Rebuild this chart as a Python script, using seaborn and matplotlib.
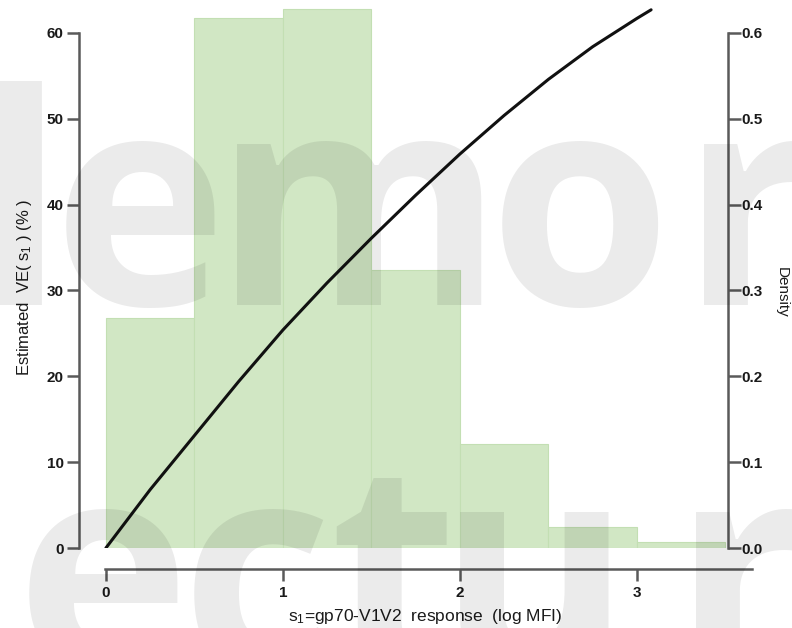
import numpy as np
import pandas as pd
import matplotlib
matplotlib.use('Agg')
import matplotlib.pyplot as plt
import seaborn as sns

# histogram of s1 (density per bin of width 0.5)
bin_edges = [0.0, 0.5, 1.0, 1.5, 2.0, 2.5, 3.0, 3.5]
bin_mids = [0.25, 0.75, 1.25, 1.75, 2.25, 2.75, 3.25]
density = [0.268, 0.618, 0.628, 0.324, 0.121, 0.024, 0.007]

# estimated VE curve
s1_vals = [0.0, 0.25, 0.5, 0.75, 1.0, 1.25, 1.5, 1.75, 2.0, 2.25, 2.5, 2.75, 3.0, 3.08]
ve_vals = [0.0, 6.8, 13.1, 19.4, 25.4, 30.9, 36.1, 41.1, 45.9, 50.4, 54.6, 58.4, 61.7, 62.7]

left_ticks = [0, 10, 20, 30, 40, 50, 60]
right_ticks = [0.0, 0.1, 0.2, 0.3, 0.4, 0.5, 0.6]
x_ticks = [0, 1, 2, 3]

# watermark letters (two rows)
wm_top = ['l', 'e', 'm', 'o', 'r']
wm_bottom = ['e', 'c', 't', 'u', 'r']

sns.set_style('white')
plt.rcParams['font.family'] = ['Liberation Sans', 'DejaVu Sans']

W, H = 792, 628
fig = plt.figure(figsize=(W / 100, H / 100), dpi=100)
ax = fig.add_axes([79 / W, (H - 548) / H, (752 - 79) / W, (548 - 5) / H])
ax2 = ax.twinx()

hist_df = pd.DataFrame({'s1': bin_mids, 'dens': density})
sns.histplot(data=hist_df, x='s1', weights='dens', bins=bin_edges, stat='count',
             ax=ax2, color='#d1e7c4', edgecolor='#c3dfb3', linewidth=0.8, alpha=1)

line_df = pd.DataFrame({'s1': s1_vals, 've': ve_vals})
sns.lineplot(data=line_df, x='s1', y='ve', ax=ax, color='#111111', linewidth=2.2)

ax.set_zorder(ax2.get_zorder() + 1)
ax.patch.set_visible(False)

xmax = 3.65
ax.set_xlim(-0.152, xmax)
ax.set_ylim(0, 63.26)
ax2.set_ylim(0, 0.6326)

spine_c = '#5a5a5a'
txt_c = '#1a1a1a'
for a in (ax, ax2):
    for s in a.spines.values():
        s.set_visible(False)

ax.spines['left'].set_visible(True)
ax.spines['left'].set_bounds(0, 60)
ax.spines['bottom'].set_visible(True)
ax.spines['bottom'].set_position(('outward', 21 * 0.72))
ax.spines['bottom'].set_bounds(-0.005, xmax)
ax2.spines['right'].set_visible(True)
ax2.spines['right'].set_position(('data', 3.514))
ax2.spines['right'].set_bounds(0, 0.6)
for s in (ax.spines['left'], ax.spines['bottom'], ax2.spines['right']):
    s.set_color(spine_c)
    s.set_linewidth(1.8)

ax.set_yticks(left_ticks)
ax.set_yticklabels([str(t) for t in left_ticks], fontweight='bold')
ax.set_xticks(x_ticks)
ax.set_xticklabels([str(t) for t in x_ticks], fontweight='bold')
ax2.set_yticks(right_ticks)
ax2.set_yticklabels([f'{t:.1f}' for t in right_ticks], fontweight='bold')

ax.tick_params(axis='y', left=True, length=9, width=1.8, color=spine_c,
               labelsize=11, labelcolor=txt_c, pad=2)
ax.tick_params(axis='x', bottom=True, length=8.5, width=1.8, color=spine_c,
               labelsize=11, labelcolor=txt_c, pad=4)
ax2.tick_params(axis='y', right=True, length=9, width=1.8, color=spine_c,
                labelsize=11, labelcolor=txt_c, pad=1)

ax.set_xlabel(r'$\mathregular{s_1}$=gp70-V1V2  response  (log MFI)', fontsize=12.5,
              color=txt_c)
ax.xaxis.set_label_coords((425 - 79) / 673, -(607 - 548) / 543)
ax.set_ylabel(r'Estimated  VE( $\mathregular{s_1}$ ) (% )', fontsize=12, color=txt_c)
ax.yaxis.set_label_coords((34 - 79) / 673, (548 - 287) / 543)
ax2.set_ylabel('Density', fontsize=11, color=txt_c, rotation=270, va='center')
ax2.yaxis.set_label_coords((782 - 79) / 673, (548 - 292) / 543)

# watermark, drawn letter by letter over the plot
wm_font = dict(fontsize=212, fontweight='bold', family=['Open Sans', 'DejaVu Sans'],
               color='black', alpha=0.08, zorder=10, ha='center', va='baseline')
for ch, xc in zip(wm_top, [20, 140, 359, 580, 748]):
    fig.text(xc / W, 1 - 305 / H, ch, **wm_font)
for ch, xc in zip(wm_bottom, [103, 256, 393, 535, 740]):
    fig.text(xc / W, 1 - 673 / H, ch, **wm_font)

fig.savefig('out.png', dpi=100)
